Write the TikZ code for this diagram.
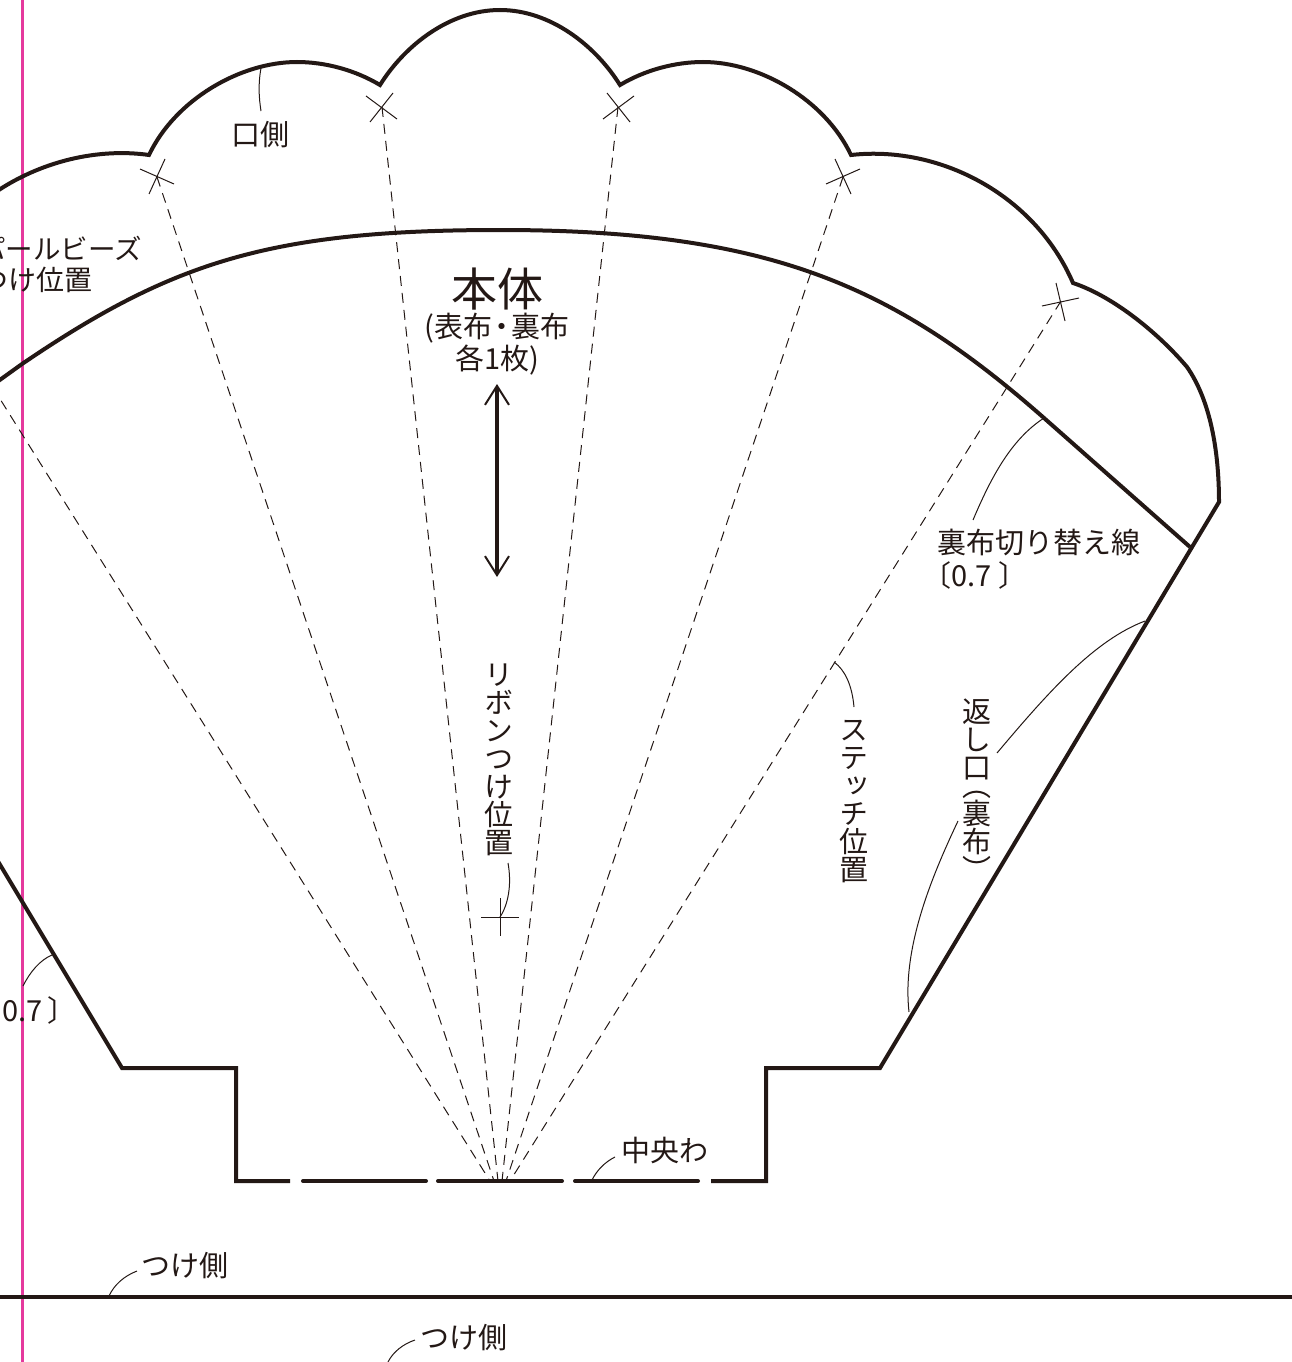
\documentclass[tikz,border=0pt]{standalone}
\usepackage{fontspec}
\usetikzlibrary{arrows.meta}
\setmainfont{Noto Sans CJK JP}
\newfontfamily\cjkv[RawFeature=+vert]{Noto Sans CJK JP}
\definecolor{ink}{HTML}{231815}
\definecolor{trim}{HTML}{E5399D}
\tikzset{
  outline/.style={line width=4pt,line join=miter,color=ink},
  leader/.style={line width=1pt,color=ink},
  stitch/.style={line width=1pt,color=ink,dash pattern=on 10pt off 7pt},
  tag/.style={inner sep=0pt,text=ink,font=\fontsize{29}{33}\selectfont},
  vtag/.style={inner sep=0pt,text=ink,align=center,font=\cjkv\fontsize{29}{28}\selectfont},
}
\begin{document}
\begin{tikzpicture}[x=1pt,y=-1pt,>={Straight Barb[length=19pt,width=24pt,line width=2pt]}]
\useasboundingbox (0,0) rectangle (1291,1362);
\draw[line width=3pt,trim](22,0)--(22,1362);
% stitching
\draw[stitch](-62,300)--(490,1181);
\draw[stitch](157,177)--(494,1181);
\draw[stitch](382,107)--(498,1181);
\draw[stitch](618,107)--(502,1181);
\draw[stitch](843,177)--(506,1181);
\draw[stitch](1061,301)--(510,1181);
% crosses
\draw[leader](140,169)--(174,184)(165,159)--(149,194);
\draw[leader](366,96)--(397,119)(393,93)--(370,122);
\draw[leader](634,96)--(603,119)(607,93)--(630,122);
\draw[leader](860,169)--(826,184)(835,159)--(851,194);
\draw[leader](1042,306)--(1079,298)(1056,283)--(1065,321);
\draw[leader](481,917)--(519,917)(500,898)--(500,936);
% body
\draw[outline](-10,196)..controls(40,160)and(100,148)..(149,155)
  ..controls(175,100)and(240,62)..(297,62)..controls(325,62)and(355,70)..(380,85)
  ..controls(405,45)and(450,10)..(500,10)..controls(550,10)and(595,45)..(620,85)
  ..controls(645,70)and(675,62)..(703,62)..controls(760,62)and(825,100)..(851,155)
  ..controls(940,145)and(1035,195)..(1073,283)
  ..controls(1115,297)and(1160,335)..(1187,367)
  ..controls(1210,400)and(1219,450)..(1219,502)
  --(880,1068)--(766,1068)--(766,1181)--(711,1181);
\draw[outline,line cap=round](698,1181)--(575,1181);
\draw[outline,line cap=round](562,1181)--(438,1181);
\draw[outline,line cap=round](426,1181)--(303,1181);
\draw[outline](290,1181)--(236,1181)--(236,1068)--(122,1068)--(-10,848);
\draw[outline](-10,387)--(22,364)..controls(172,262)and(270,230)..(500,230)
  ..controls(770,230)and(894,286)..(1044,418)--(1190,547);
\draw[outline](-10,1297)--(1301,1297);
% grain
\draw[<->,line width=3.8pt,ink](497,384)--(497,577);
% leaders
\draw[leader](261,68)..controls(258,85)and(259,98)..(261,111);
\draw[leader](1044,418)..controls(1010,440)and(990,480)..(973,520);
\draw[leader](1145,621)..controls(1095,640)and(1050,690)..(997,753);
\draw[leader](958,821)..controls(930,880)and(902,950)..(909,1012);
\draw[leader](834,662)..controls(845,670)and(852,685)..(854,707);
\draw[leader](592,1180)..controls(597,1170)and(605,1162)..(615,1157);
\draw[leader](109,1296)..controls(114,1285)and(124,1276)..(137,1271);
\draw[leader](388,1362)..controls(393,1352)and(403,1344)..(415,1340);
\draw[leader](52,955)..controls(40,960)and(30,972)..(23,986);
\draw[leader](508,863)..controls(512,885)and(508,905)..(500,917);
% labels
\node[tag](mouth) at (260,135){口側};
\node[tag,anchor=east,font=\fontsize{27.5}{33}\selectfont](pearl) at (142,248){パールビーズ};
\node[tag,anchor=east,font=\fontsize{28}{33}\selectfont](pearlpos) at (93,280){つけ位置};
\node[tag,font=\fontsize{46}{46}\selectfont](body) at (497,289){本体};
\node[tag,align=center,font=\fontsize{29}{29}\selectfont](count) at (497,344){(表布\kern-5pt・\kern-5pt 裏布\\各1枚)};
\node[tag,anchor=west,align=left](lining) at (937,559){裏布切り替え線\\\kern-15pt〔0.7\kern7pt〕};
\node[tag,anchor=east](seam) at (77,1010){0.7\kern5pt〕};
\node[tag](center) at (665,1150){中央わ};
\node[tag](attach) at (185,1266){つけ側};
\node[tag](attachb) at (464,1338){つけ側};
\node[vtag](ribbon) at (499,760){リ\\ボ\\ン\\つ\\け\\位\\置};
\node[vtag](stitchpos) at (854,802){ス\\テ\\ッ\\チ\\位\\置};
\node[vtag](gap) at (977,790){返\\し\\口\\[-10pt]（\\裏\\布\\）};
\end{tikzpicture}
\end{document}
